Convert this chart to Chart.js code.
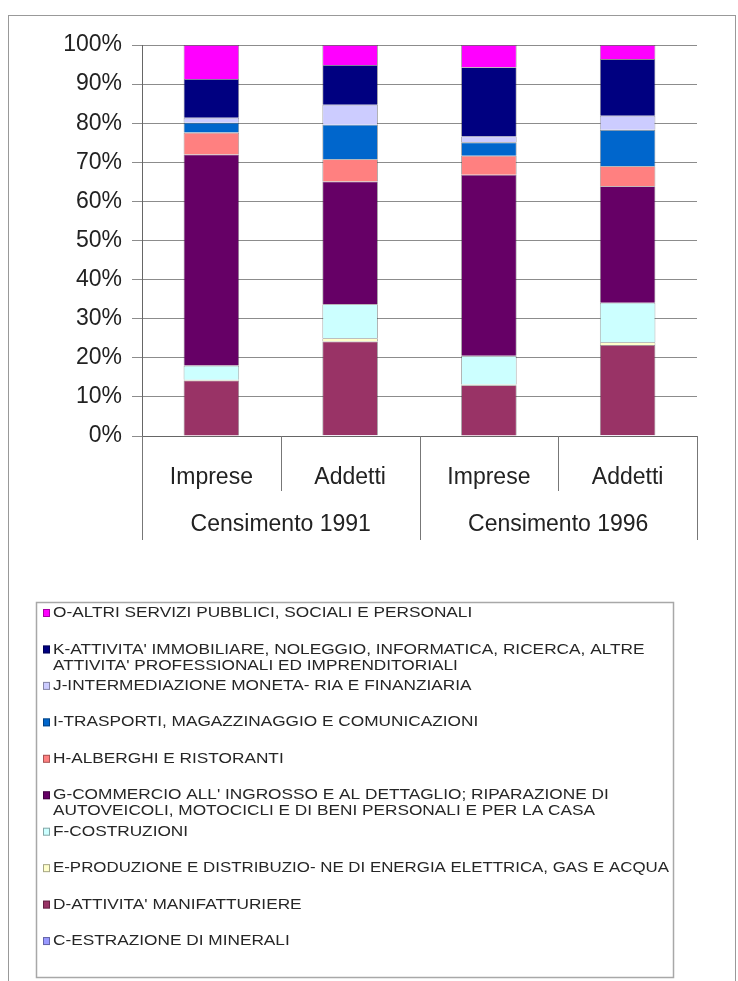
<!DOCTYPE html>
<html>
<head>
<meta charset="utf-8">
<script src="https://cdn.jsdelivr.net/npm/chart.js@4.4.0/dist/chart.umd.min.js"></script>
<style>
  body { margin: 0; background: #fff; }
  canvas { display: block; }
</style>
</head>
<body>
<canvas id="myChart" width="738" height="981"></canvas>
<script>
// categories and census groups
const categories = ["Imprese", "Addetti", "Imprese", "Addetti"];
const groups = ["Censimento 1991", "Censimento 1996"];

// percent share of each sector, stacked from the bottom up
const cEstrazione   = [0.1, 0.2, 0.1, 0.2];
const dManifattura  = [14.1, 24.0, 12.9, 23.1];
const eEnergia      = [0.2, 0.8, 0.2, 0.7];
const fCostruzioni  = [3.6, 8.7, 7.3, 10.1];
const gCommercio    = [54.0, 31.4, 46.3, 29.8];
const hAlberghi     = [5.6, 5.7, 4.9, 5.1];
const iTrasporti    = [2.5, 8.8, 3.4, 9.3];
const jCredito      = [1.3, 5.1, 1.5, 3.6];
const kImmobiliare  = [9.9, 10.2, 17.7, 14.5];
const oAltriServizi = [8.7, 5.1, 5.7, 3.6];

const yTicks = [0, 10, 20, 30, 40, 50, 60, 70, 80, 90, 100];

const sectorLabels = [
  "C-ESTRAZIONE DI MINERALI",
  "D-ATTIVITA' MANIFATTURIERE",
  "E-PRODUZIONE E DISTRIBUZIO- NE DI ENERGIA ELETTRICA, GAS E ACQUA",
  "F-COSTRUZIONI",
  ["G-COMMERCIO ALL' INGROSSO E AL DETTAGLIO; RIPARAZIONE DI", "AUTOVEICOLI, MOTOCICLI E DI BENI PERSONALI E PER LA CASA"],
  "H-ALBERGHI E RISTORANTI",
  "I-TRASPORTI, MAGAZZINAGGIO E COMUNICAZIONI",
  "J-INTERMEDIAZIONE MONETA- RIA E FINANZIARIA",
  ["K-ATTIVITA' IMMOBILIARE, NOLEGGIO, INFORMATICA, RICERCA, ALTRE", "ATTIVITA' PROFESSIONALI ED IMPRENDITORIALI"],
  "O-ALTRI SERVIZI PUBBLICI, SOCIALI E PERSONALI"
];
const sectorValues = [cEstrazione, dManifattura, eEnergia, fCostruzioni, gCommercio,
                      hAlberghi, iTrasporti, jCredito, kImmobiliare, oAltriServizi];
const sectorColors = ["#9999FF", "#993366", "#FFFFCC", "#CCFFFF", "#660066",
                      "#FF8080", "#0066CC", "#CCCCFF", "#000080", "#FF00FF"];

const FONT = '"Liberation Sans", Arial, sans-serif';

// two-level category axis: separators plus census labels
const groupAxis = {
  id: "groupAxis",
  afterDraw(chart) {
    const { ctx, chartArea, scales: { x } } = chart;
    const half = (x.getPixelForValue(1) - x.getPixelForValue(0)) / 2;
    ctx.save();
    ctx.strokeStyle = "#777";
    ctx.lineWidth = 1;
    for (let i = 0; i <= categories.length; i++) {
      const px = Math.round(x.getPixelForValue(i) - half) + 0.5;
      const len = i % 2 === 0 ? 104 : 55;
      ctx.beginPath();
      ctx.moveTo(px, chartArea.bottom);
      ctx.lineTo(px, chartArea.bottom + len);
      ctx.stroke();
    }
    ctx.fillStyle = "#222";
    ctx.font = "23px " + FONT;
    ctx.textAlign = "center";
    ctx.textBaseline = "middle";
    groups.forEach((g, j) => {
      const cx = (x.getPixelForValue(2 * j) + x.getPixelForValue(2 * j + 1)) / 2;
      ctx.fillText(g, cx, chartArea.bottom + 89);
    });
    ctx.restore();
  }
};

// boxed legend below the chart, top entry = top of stack
const boxLegend = {
  id: "boxLegend",
  afterDraw(chart) {
    const ctx = chart.ctx;
    ctx.save();
    ctx.strokeStyle = "#999";
    ctx.lineWidth = 1;
    ctx.strokeRect(8.5, 15.5, 727, 1000);
    ctx.strokeStyle = "#a8a8a8";
    ctx.lineWidth = 1.5;
    ctx.strokeRect(36.5, 602.5, 637, 375);

    ctx.font = "15px " + FONT;
    ctx.textBaseline = "middle";
    const sx = 1.15;
    const items = chart.data.datasets.slice().reverse();
    items.forEach((ds, k) => {
      const y = 613 + k * 36.45;
      ctx.fillStyle = ds.backgroundColor;
      ctx.fillRect(43, y - 4, 7, 8);
      ctx.strokeStyle = "rgba(0,0,0,0.35)";
      ctx.lineWidth = 1;
      ctx.strokeRect(43.5, y - 3.5, 6, 7);
      ctx.fillStyle = "#262626";
      const lines = Array.isArray(ds.label) ? ds.label : [ds.label];
      lines.forEach((line, n) => {
        ctx.save();
        ctx.translate(53, y + n * 16);
        ctx.scale(sx, 1);
        // keep long entries inside the box
        ctx.fillText(line, 0, 0, (669 - 53) / sx);
        ctx.restore();
      });
    });
    ctx.restore();
  }
};

const ctxMain = document.getElementById("myChart").getContext("2d");
const censusChart = new Chart(ctxMain, {
  type: "bar",
  data: {
    labels: categories,
    datasets: sectorValues.map((vals, i) => ({
      label: sectorLabels[i],
      data: vals,
      backgroundColor: sectorColors[i],
      borderColor: "rgba(50,50,50,0.55)",
      borderWidth: 0.8,
      barPercentage: 0.4,
      categoryPercentage: 1.0
    }))
  },
  options: {
    responsive: false,
    animation: false,
    layout: { padding: { left: 0, top: 45, right: 41, bottom: 435 } },
    plugins: {
      legend: { display: false },
      tooltip: { enabled: false }
    },
    scales: {
      x: {
        stacked: true,
        grid: { display: false },
        border: { display: true, color: "#666" },
        ticks: { color: "#222", font: { family: FONT, size: 23 }, padding: 20 },
        afterFit(s) { s.height = 110; }
      },
      y: {
        stacked: true,
        min: 0,
        max: 100,
        afterBuildTicks(s) { s.ticks = yTicks.map(v => ({ value: v })); },
        grid: { color: "#8c8c8c", tickLength: 10 },
        border: { display: true, color: "#666" },
        ticks: {
          color: "#222",
          font: { family: FONT, size: 23 },
          padding: 10,
          callback: v => v + "%"
        },
        afterFit(s) { s.width = 142; }
      }
    }
  },
  plugins: [groupAxis, boxLegend]
});
</script>
</body>
</html>
